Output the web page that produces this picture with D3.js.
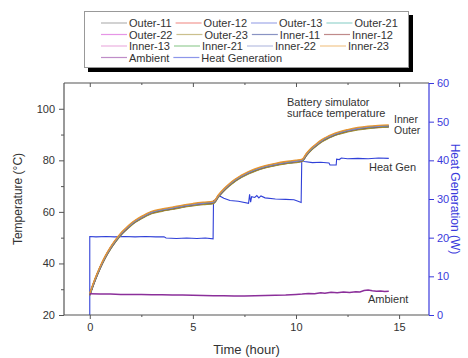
<!DOCTYPE html>
<html><head><meta charset="utf-8">
<script src="https://cdn.jsdelivr.net/npm/d3@7"></script>
<style>body{margin:0;background:#fff}svg{display:block;font-family:"Liberation Sans",Arial,sans-serif}</style>
</head><body><svg id="c" width="468" height="358"></svg>
<script>
// ---------- data ----------
const seriesNames = ["Outer-11","Outer-12","Outer-13","Outer-21","Outer-22","Outer-23",
  "Inner-11","Inner-12","Inner-13","Inner-21","Inner-22","Inner-23","Ambient","Heat Generation"];
const seriesColors = ["#777777","#e8463c","#5462d6","#3fb2a6","#d23ed2","#a08c30",
  "#283a92","#8c2a2a","#d870c4","#3ea23e","#7c86c8","#e8962e","#8b2f9a","#3040d8"];
// surface temperature (°C) of battery simulator vs time (hour)
const tempTime = [0,0.25,0.5,0.75,1,1.25,1.5,1.75,2,2.25,2.5,2.75,3,3.5,4,4.5,5,5.5,6,
  6.25,6.5,6.75,7,7.25,7.5,7.75,8,8.5,9,9.5,10,10.3,
  10.5,10.75,11,11.25,11.5,11.75,12,12.5,13,13.5,14,14.5];
const surfaceTemp = [28,33.6,38.4,42.5,45.9,48.8,51.3,53.3,55.1,56.6,57.8,58.9,59.8,60.7,61.4,62.2,62.8,63.3,63.7,
  66.3,68.5,70.4,72.0,73.3,74.4,75.4,76.2,77.5,78.4,79.1,79.6,80.0,
  82.2,84.4,86.1,87.6,88.7,89.6,90.4,91.5,92.3,92.8,93.1,93.3];
// per-sensor deviation from the surface temperature (°C)
const sensorOffset = [-0.2,-0.1,-0.3,-0.25,-0.15,-0.45, 0.15,0.0,0.2,0.1,0.05,0.45];
const ambientTime = [0,0.5,1,1.5,2,2.5,3,3.5,4,4.5,5,5.5,6,6.5,7,7.5,8,8.5,9,9.5,10,10.3,10.6,10.9,11.2,11.4,11.7,12,12.3,12.6,12.9,13.1,13.3,13.5,13.7,13.9,14.1,14.3,14.5];
const ambientTemp = [28.2,28.1,28.1,28.0,28.0,28.0,27.9,27.9,27.8,27.8,27.7,27.6,27.5,27.5,27.4,27.4,27.5,27.6,27.7,27.8,28.0,28.1,28.3,28.2,28.6,28.4,28.8,28.6,28.9,28.7,29.0,28.9,29.5,29.7,29.4,29.2,29.3,29.1,29.2];
const heatTime = [0,0,0.3,0.8,1.2,1.7,2.2,2.7,3.2,3.6,3.7,4.2,4.7,5.2,5.6,5.98,6.0,6.1,6.3,6.5,6.8,7.2,7.7,7.75,7.8,7.85,8.0,8.1,8.2,8.3,8.5,9.0,9.5,9.9,10.1,10.25,10.28,10.4,10.8,11.2,11.6,11.65,11.95,11.97,12.1,12.2,12.5,13.0,13.5,14.0,14.5];
const heatPower = [0,20.3,20.2,20.3,20.2,20.3,20.2,20.3,20.2,20.2,19.9,19.8,19.9,19.8,19.9,19.7,29.6,29.8,30.8,30.2,29.6,29.4,28.9,31.2,29.2,30.6,30.4,30.9,30.3,30.8,30.3,30.0,29.9,29.8,29.4,29.1,40.0,39.7,39.4,39.5,39.3,38.8,38.8,40.3,40.2,40.6,40.4,40.5,40.4,40.6,40.5];
const xTicks = [0,5,10,15];
const xMinor = [2.5,7.5,12.5];
const yTicks = [20,40,60,80,100];
const yMinor = [30,50,70,90];
const y2Ticks = [0,10,20,30,40,50,60];

// ---------- layout ----------
const svg = d3.select("#c");
const L=64,R=429,T=83,B=315;
const x = d3.scaleLinear().domain([-1.25,16.45]).range([L,R]);
const y = d3.scaleLinear().domain([20,110]).range([B,T]);
const y2 = d3.scaleLinear().domain([0,60]).range([B,T]);
const axisCol="#555", txtCol="#333", blue="#3a3adc";

svg.append("clipPath").attr("id","pc").append("rect").attr("x",L).attr("y",T).attr("width",R-L).attr("height",B-T);
const g = svg.append("g").attr("clip-path","url(#pc)");
g.append("path")
  .attr("d", d3.line().x((d,i)=>x(heatTime[i])).y((d,i)=>y2(heatPower[i]))(heatPower))
  .attr("fill","none").attr("stroke",seriesColors[13]).attr("stroke-width",1.1);
sensorOffset.forEach((off,k)=>{
  const ln = d3.line().curve(d3.curveMonotoneX).x((d,i)=>x(tempTime[i])).y((d,i)=>y(surfaceTemp[i]+off));
  g.append("path").attr("d",ln(surfaceTemp))
   .attr("fill","none").attr("stroke",seriesColors[k]).attr("stroke-width",1.3);
});
g.append("path")
  .attr("d", d3.line().x((d,i)=>x(ambientTime[i])).y((d,i)=>y(ambientTemp[i]))(ambientTemp))
  .attr("fill","none").attr("stroke",seriesColors[12]).attr("stroke-width",1.5);

// axes
const fs = 11;
function style(a,col){
  a.select(".domain").remove();
  a.selectAll(".tick line").attr("stroke",col).attr("stroke-width",1);
  a.selectAll(".tick text").attr("fill",col===axisCol?txtCol:col).attr("font-size",fs)
    .attr("font-family","Liberation Sans, Arial, sans-serif");
  return a;
}
style(svg.append("g").attr("transform",`translate(0,${B})`)
  .call(d3.axisBottom(x).tickValues(xTicks).tickSize(4).tickPadding(4)),axisCol);
style(svg.append("g").attr("transform",`translate(0,${B})`)
  .call(d3.axisBottom(x).tickValues(xMinor).tickSize(2).tickFormat("")),axisCol);
style(svg.append("g").attr("transform",`translate(0,${T})`)
  .call(d3.axisTop(x).tickValues(xTicks).tickSize(-4).tickFormat("")),axisCol);
style(svg.append("g").attr("transform",`translate(0,${T})`)
  .call(d3.axisTop(x).tickValues(xMinor).tickSize(-2).tickFormat("")),axisCol);
style(svg.append("g").attr("transform",`translate(${L},0)`)
  .call(d3.axisLeft(y).tickValues(yTicks).tickSize(5).tickPadding(4)),axisCol);
style(svg.append("g").attr("transform",`translate(${L},0)`)
  .call(d3.axisLeft(y).tickValues(yMinor).tickSize(3).tickFormat("")),axisCol);
style(svg.append("g").attr("transform",`translate(${R},0)`)
  .call(d3.axisRight(y2).tickValues(y2Ticks).tickSize(5).tickPadding(3)),blue);

// frame
svg.append("line").attr("x1",L).attr("x2",R).attr("y1",B).attr("y2",B).attr("stroke",axisCol).attr("stroke-width",1.2);
svg.append("line").attr("x1",L).attr("x2",R).attr("y1",T).attr("y2",T).attr("stroke",axisCol).attr("stroke-width",1.2);
svg.append("line").attr("x1",L).attr("x2",L).attr("y1",T).attr("y2",B).attr("stroke",axisCol).attr("stroke-width",1.2);
svg.append("line").attr("x1",R).attr("x2",R).attr("y1",T).attr("y2",B).attr("stroke",blue).attr("stroke-width",1.2);

// axis titles
svg.append("text").attr("transform",`translate(22,${(T+B)/2}) rotate(-90)`).attr("text-anchor","middle")
  .attr("font-size",12).attr("fill",txtCol).text("Temperature (°C)");
svg.append("text").attr("transform",`translate(451,${(T+B)/2}) rotate(90)`).attr("text-anchor","middle")
  .attr("font-size",12).attr("fill",blue).text("Heat Generation (W)");
svg.append("text").attr("x",(L+R)/2).attr("y",354).attr("text-anchor","middle")
  .attr("font-size",13).attr("fill",txtCol).text("Time (hour)");

// annotations
const ann = [["Battery simulator",287,106,11],["surface temperature",287,117,11],["Inner",394,122.5,10.5],["Outer",394,133.5,10.5],["Heat Gen",369,171,11],["Ambient",368,303,11]];
ann.forEach(a=>svg.append("text").attr("x",a[1]).attr("y",a[2]).attr("font-size",a[3]).attr("fill",txtCol).text(a[0]));

// legend
const lg = svg.append("g");
lg.append("rect").attr("x",88).attr("y",15).attr("width",325).attr("height",57).attr("fill","#000");
lg.append("rect").attr("x",84.5).attr("y",11.5).attr("width",324).attr("height",56).attr("fill","#fff").attr("stroke","#999");
const rows = [[0,1,2,3],[4,5,6,7],[8,9,10,11],[12,13]];
rows.forEach((row,r)=>{
  let cx = 101; const cy = 23 + r*11.5;
  row.forEach(k=>{
    lg.append("line").attr("x1",cx).attr("x2",cx+26).attr("y1",cy).attr("y2",cy)
      .attr("stroke",seriesColors[k]).attr("stroke-opacity",0.55).attr("stroke-width",1.2);
    const t = lg.append("text").attr("x",cx+28).attr("y",cy+4).attr("font-size",11).attr("fill",txtCol).text(seriesNames[k]);
    cx += 28 + t.node().getComputedTextLength() + 4;
  });
});
</script></body></html>
